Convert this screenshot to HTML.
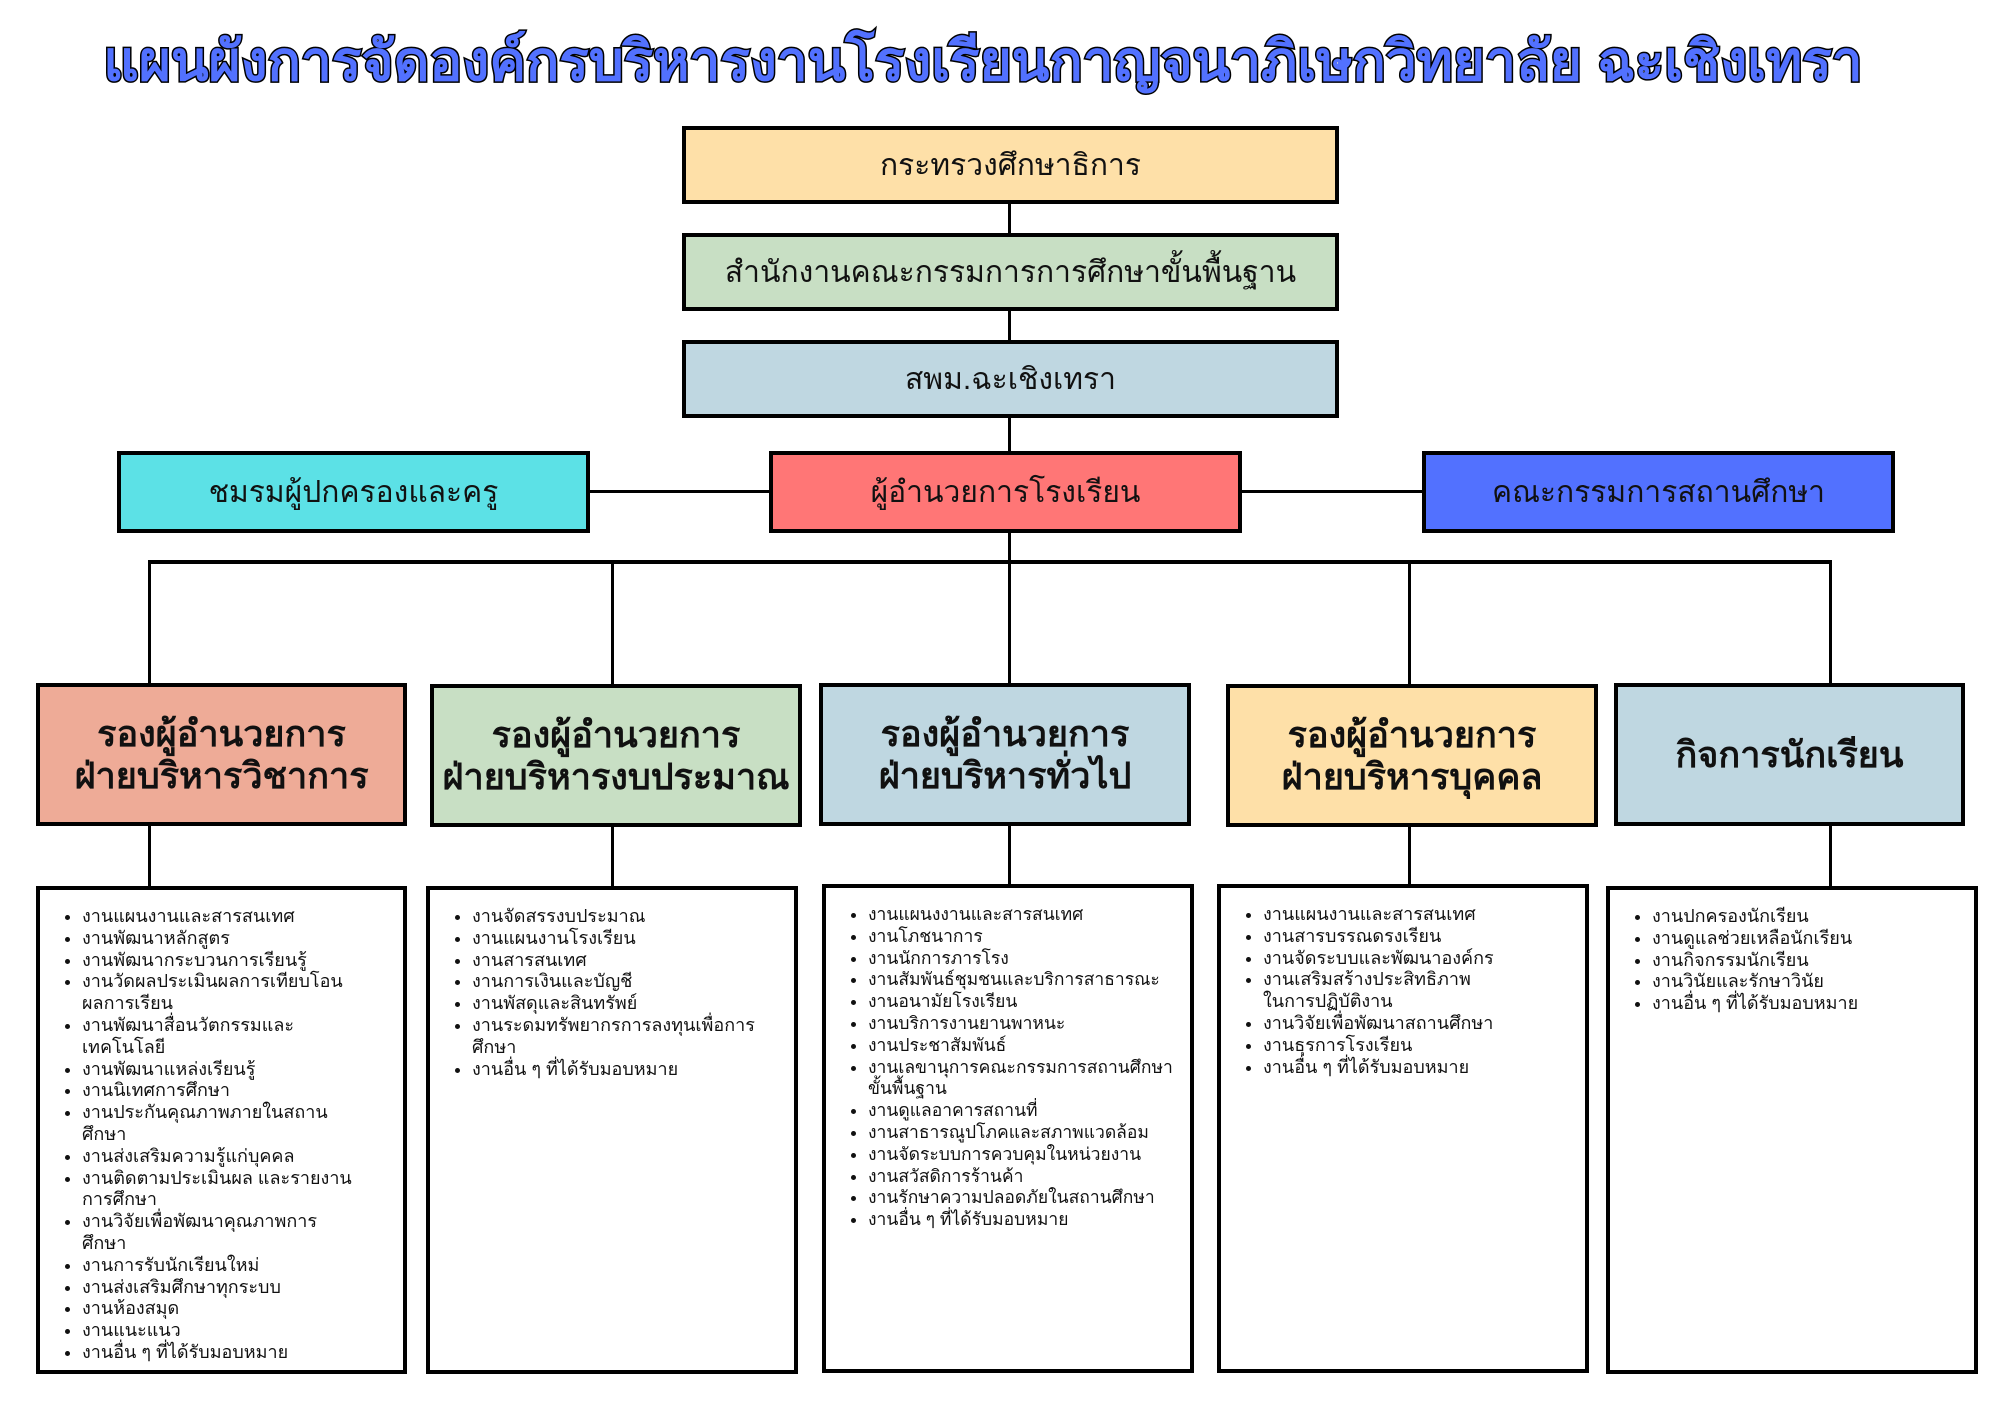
<!DOCTYPE html>
<html><head><meta charset="utf-8"><style>
body{margin:0;width:2000px;height:1414px;background:#fff;position:relative;overflow:hidden;font-family:"Liberation Sans","DejaVu Sans",sans-serif;color:#111}
.b{position:absolute;box-sizing:border-box;border:4px solid #000;display:flex;align-items:center;justify-content:center;text-align:center}
.t{font-size:30px}
.h{font-size:36px;font-weight:bold;line-height:42px}
.l{position:absolute;background:#000}
.list{position:absolute;box-sizing:border-box;border:4px solid #000;background:#fff}
.list ul{margin:0;padding:16px 0 0 42px;font-size:18px;line-height:21.8px}
.list li{white-space:nowrap}
.title{position:absolute;left:-17px;width:2000px;top:18px;text-align:center;font-size:55px;font-weight:bold;color:#5271ff;-webkit-text-stroke:3px #000;paint-order:stroke fill;white-space:nowrap}
</style></head><body>
<div class="title">แผนผังการจัดองค์กรบริหารงานโรงเรียนกาญจนาภิเษกวิทยาลัย ฉะเชิงเทรา</div>

<div class="l" style="left:1008px;top:200px;width:3px;height:370px"></div>
<div class="l" style="left:589px;top:490px;width:180px;height:3px"></div>
<div class="l" style="left:1241px;top:490px;width:181px;height:3px"></div>
<div class="l" style="left:148px;top:560px;width:1684px;height:4px"></div>
<div class="l" style="left:148px;top:560px;width:3px;height:126px"></div>
<div class="l" style="left:611px;top:560px;width:3px;height:126px"></div>
<div class="l" style="left:1008px;top:560px;width:3px;height:126px"></div>
<div class="l" style="left:1408px;top:560px;width:3px;height:126px"></div>
<div class="l" style="left:1829px;top:560px;width:3px;height:126px"></div>
<div class="l" style="left:148px;top:822px;width:3px;height:66px"></div>
<div class="l" style="left:611px;top:822px;width:3px;height:66px"></div>
<div class="l" style="left:1008px;top:822px;width:3px;height:66px"></div>
<div class="l" style="left:1408px;top:822px;width:3px;height:66px"></div>
<div class="l" style="left:1829px;top:822px;width:3px;height:66px"></div>

<div class="b t" style="left:682px;top:126px;width:657px;height:78px;background:#fee0a8">กระทรวงศึกษาธิการ</div>
<div class="b t" style="left:682px;top:233px;width:657px;height:78px;background:#c8dfc4">สำนักงานคณะกรรมการการศึกษาขั้นพื้นฐาน</div>
<div class="b t" style="left:682px;top:340px;width:657px;height:78px;background:#bfd7e1">สพม.ฉะเชิงเทรา</div>
<div class="b t" style="left:117px;top:451px;width:473px;height:82px;background:#5ce1e6">ชมรมผู้ปกครองและครู</div>
<div class="b t" style="left:769px;top:451px;width:473px;height:82px;background:#ff7676">ผู้อำนวยการโรงเรียน</div>
<div class="b t" style="left:1422px;top:451px;width:473px;height:82px;background:#5271ff">คณะกรรมการสถานศึกษา</div>

<div class="b h" style="left:36px;top:683px;width:371px;height:143px;background:#eeab97">รองผู้อำนวยการ<br>ฝ่ายบริหารวิชาการ</div>
<div class="b h" style="left:430px;top:684px;width:372px;height:143px;background:#c8dfc4">รองผู้อำนวยการ<br>ฝ่ายบริหารงบประมาณ</div>
<div class="b h" style="left:819px;top:683px;width:372px;height:143px;background:#bfd7e1">รองผู้อำนวยการ<br>ฝ่ายบริหารทั่วไป</div>
<div class="b h" style="left:1226px;top:684px;width:372px;height:143px;background:#fee0a8">รองผู้อำนวยการ<br>ฝ่ายบริหารบุคคล</div>
<div class="b h" style="left:1614px;top:683px;width:351px;height:143px;background:#bfd7e1">กิจการนักเรียน</div>

<div class="list" style="left:36px;top:886px;width:371px;height:488px"><ul>
<li>งานแผนงานและสารสนเทศ</li><li>งานพัฒนาหลักสูตร</li><li>งานพัฒนากระบวนการเรียนรู้</li><li>งานวัดผลประเมินผลการเทียบโอน<br>ผลการเรียน</li><li>งานพัฒนาสื่อนวัตกรรมและ<br>เทคโนโลยี</li><li>งานพัฒนาแหล่งเรียนรู้</li><li>งานนิเทศการศึกษา</li><li>งานประกันคุณภาพภายในสถาน<br>ศึกษา</li><li>งานส่งเสริมความรู้แก่บุคคล</li><li>งานติดตามประเมินผล และรายงาน<br>การศึกษา</li><li>งานวิจัยเพื่อพัฒนาคุณภาพการ<br>ศึกษา</li><li>งานการรับนักเรียนใหม่</li><li>งานส่งเสริมศึกษาทุกระบบ</li><li>งานห้องสมุด</li><li>งานแนะแนว</li><li>งานอื่น ๆ ที่ได้รับมอบหมาย</li></ul></div>
<div class="list" style="left:426px;top:886px;width:372px;height:488px"><ul>
<li>งานจัดสรรงบประมาณ</li><li>งานแผนงานโรงเรียน</li><li>งานสารสนเทศ</li><li>งานการเงินและบัญชี</li><li>งานพัสดุและสินทรัพย์</li><li>งานระดมทรัพยากรการลงทุนเพื่อการ<br>ศึกษา</li><li>งานอื่น ๆ ที่ได้รับมอบหมาย</li></ul></div>
<div class="list" style="left:822px;top:884px;width:372px;height:489px"><ul style="font-size:17.5px">
<li>งานแผนงงานและสารสนเทศ</li><li>งานโภชนาการ</li><li>งานนักการภารโรง</li><li>งานสัมพันธ์ชุมชนและบริการสาธารณะ</li><li>งานอนามัยโรงเรียน</li><li>งานบริการงานยานพาหนะ</li><li>งานประชาสัมพันธ์</li><li>งานเลขานุการคณะกรรมการสถานศึกษา<br>ขั้นพื้นฐาน</li><li>งานดูแลอาคารสถานที่</li><li>งานสาธารณูปโภคและสภาพแวดล้อม</li><li>งานจัดระบบการควบคุมในหน่วยงาน</li><li>งานสวัสดิการร้านค้า</li><li>งานรักษาความปลอดภัยในสถานศึกษา</li><li>งานอื่น ๆ ที่ได้รับมอบหมาย</li></ul></div>
<div class="list" style="left:1217px;top:884px;width:372px;height:489px"><ul>
<li>งานแผนงานและสารสนเทศ</li><li>งานสารบรรณดรงเรียน</li><li>งานจัดระบบและพัฒนาองค์กร</li><li>งานเสริมสร้างประสิทธิภาพ<br>ในการปฏิบัติงาน</li><li>งานวิจัยเพื่อพัฒนาสถานศึกษา</li><li>งานธุรการโรงเรียน</li><li>งานอื่น ๆ ที่ได้รับมอบหมาย</li></ul></div>
<div class="list" style="left:1606px;top:886px;width:372px;height:488px"><ul>
<li>งานปกครองนักเรียน</li><li>งานดูแลช่วยเหลือนักเรียน</li><li>งานกิจกรรมนักเรียน</li><li>งานวินัยและรักษาวินัย</li><li>งานอื่น ๆ ที่ได้รับมอบหมาย</li></ul></div>
</body></html>
